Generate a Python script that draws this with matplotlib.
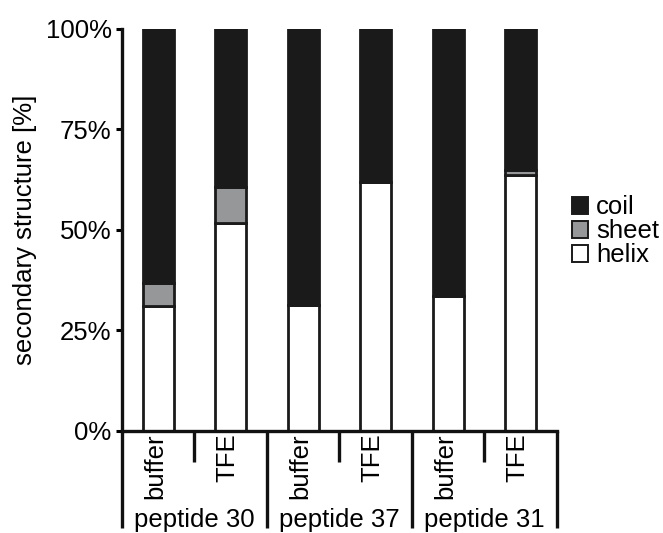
import matplotlib.pyplot as plt
import matplotlib.transforms as mtransforms
from matplotlib.patches import Patch
import numpy as np

plt.rcParams['font.family'] = ['Liberation Sans', 'DejaVu Sans']

groups = ["peptide 30", "peptide 37", "peptide 31"]
conditions = ["buffer", "TFE"]
helix = [31.2, 51.8, 31.4, 61.9, 33.5, 63.8]
sheet = [5.5, 9.0, 0.0, 0.0, 0.0, 1.0]
coil = [100 - h - s for h, s in zip(helix, sheet)]

coil_color = "#1a1a1a"
sheet_color = "#969799"
helix_color = "#ffffff"
edge = "#1a1a1a"
fs = 18.5

fig = plt.figure(figsize=(6.63, 5.33), dpi=100)
ax = fig.add_axes([0.184, 0.1914, 0.656, 0.7542])

x = np.arange(len(helix))
w = 0.43
ax.bar(x, helix, w, color=helix_color, edgecolor=edge, linewidth=2.0)
ax.bar(x, sheet, w, bottom=helix, color=sheet_color, edgecolor=edge, linewidth=2.0)
bottom2 = [h + s for h, s in zip(helix, sheet)]
ax.bar(x, coil, w, bottom=bottom2, color=coil_color, edgecolor=edge, linewidth=2.0)

ax.set_xlim(-0.5, len(helix) - 0.5)
ax.set_ylim(0, 100)
ax.set_yticks([0, 25, 50, 75, 100])
ax.set_yticklabels(["0%", "25%", "50%", "75%", "100%"], fontsize=fs)
ax.set_ylabel("secondary structure [%]", fontsize=fs, labelpad=6)
ax.tick_params(axis='y', length=4, width=2.2, direction='out', pad=3.5)
ax.set_xticks([])

for side in ["top", "right"]:
    ax.spines[side].set_visible(False)
for side in ["left", "bottom"]:
    ax.spines[side].set_linewidth(2.4)
    ax.spines[side].set_color("#111111")

# group separators below the axis: long between peptides, short between conditions
trans = mtransforms.blended_transform_factory(ax.transData, ax.transAxes)
for b in np.arange(-0.5, len(helix), 1.0):
    k = int(round(b + 0.5))
    low = -0.241 if k % 2 == 0 else -0.077
    ax.plot([b, b], [0, low], transform=trans, color="#111111", lw=2.4,
            clip_on=False, solid_capstyle='butt')

labels = conditions * len(groups)
for xi, lab in zip(x, labels):
    ax.text(xi - 0.04, -0.006, lab, transform=trans, rotation=90, ha='center',
            va='top', fontsize=fs)

for gi, g in enumerate(groups):
    ax.text(2 * gi + 0.5, -0.239, g, transform=trans, ha='center',
            va='baseline', fontsize=fs)

handles = [Patch(facecolor=coil_color, edgecolor=edge, lw=1.4, label="coil"),
           Patch(facecolor=sheet_color, edgecolor=edge, lw=1.4, label="sheet"),
           Patch(facecolor=helix_color, edgecolor=edge, lw=1.4, label="helix")]
fig.legend(handles=handles, loc='center left', bbox_to_anchor=(0.863, 0.566),
           frameon=False, fontsize=fs, handlelength=0.62, handleheight=0.62,
           handletextpad=0.3, labelspacing=0.0, borderpad=0, borderaxespad=0)

fig.savefig("out.png", dpi=100)
